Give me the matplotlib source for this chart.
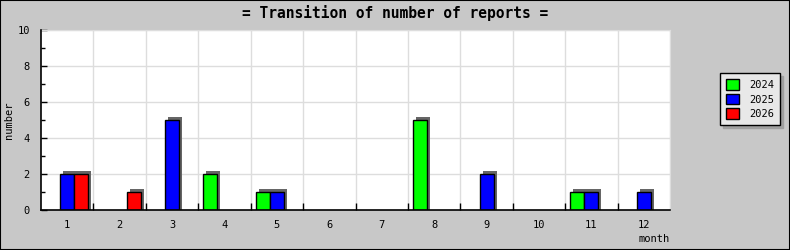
import matplotlib
matplotlib.use("Agg")
import matplotlib.pyplot as plt
from matplotlib.patches import Patch, Rectangle

months = list(range(1, 13))
month_labels = [str(m) for m in months]
series_names = ["2024", "2025", "2026"]
v2024 = [0, 0, 0, 2, 1, 0, 0, 5, 0, 0, 1, 0]
v2025 = [2, 0, 5, 0, 1, 0, 0, 0, 2, 0, 1, 1]
v2026 = [2, 1, 0, 0, 0, 0, 0, 0, 0, 0, 0, 0]
colors = ["#00ff00", "#0000ff", "#ff0000"]
title = "= Transition of number of reports ="

plt.rcParams['font.family'] = ['DejaVu Sans Mono']
W, H = 790, 250
fig = plt.figure(figsize=(W / 100, H / 100), dpi=100, facecolor="#c8c8c8")
fig.patches.append(Rectangle((0, 0), 1, 1, transform=fig.transFigure, fill=False,
                             edgecolor="black", linewidth=1.5, zorder=10))

px_l, px_r, px_t, px_b = 41, 670, 30, 210
ax = fig.add_axes([px_l / W, 1 - px_b / H, (px_r - px_l) / W, (px_b - px_t) / H])
ax.set_facecolor("white")
ax.set_xlim(0.5, 12.5)
ax.set_ylim(0, 10)

ppx = (px_r - px_l) / 12.0   # pixels per month
ppy = (px_b - px_t) / 10.0   # pixels per unit
bw = 14 / ppx
sdx = 3 / ppx
sdy = 3 / ppy

for i, (vals, col) in enumerate(zip([v2024, v2025, v2026], colors)):
    off = (i - 1) * bw
    xs = [m + off for m in months]
    for x, v in zip(xs, vals):
        if v <= 0:
            continue
        ax.bar(x + sdx, v + sdy, width=bw, bottom=0, color="#666666", linewidth=0, zorder=2)
    for x, v in zip(xs, vals):
        if v <= 0:
            continue
        ax.bar(x, v, width=bw, color=col, edgecolor="black", linewidth=1.0, zorder=3)

# grid
for b in [m + 0.5 for m in months]:
    ax.axvline(b, color="#dddddd", linewidth=1, zorder=1)
for yv in range(2, 11, 2):
    ax.axhline(yv, color="#dddddd", linewidth=1, zorder=1)

for s in ["top", "right"]:
    ax.spines[s].set_color("#dddddd")
for s in ["left", "bottom"]:
    ax.spines[s].set_color("black")
    ax.spines[s].set_linewidth(1.2)
    ax.spines[s].set_zorder(5)

ax.set_yticks(range(0, 11, 2))
ax.set_yticks(range(1, 11, 2), minor=True)
ax.tick_params(axis="y", direction="in", length=4, width=1, labelsize=7.5, pad=8)
ax.tick_params(axis="y", which="minor", direction="in", length=3, width=1)

ax.set_xticks([m + 0.5 for m in months[:-1]])
ax.set_xticklabels([])
ax.tick_params(axis="x", direction="in", length=5, width=1)
for m, lab in zip(months, month_labels):
    ax.text(m, -0.55, lab, ha="center", va="top", fontsize=7.5,
            transform=ax.transData)

ax.text(12.5, -1.35, "month", ha="right", va="top", fontsize=7.5)
fig.text(9 / W, 1 - 120 / H, "number", rotation=90, ha="center", va="center", fontsize=7.5)
fig.text(395 / W, 1 - 13 / H, title, ha="center", va="center", fontsize=10.5, fontweight="bold")

handles = [Patch(facecolor=c, edgecolor="black", linewidth=1) for c in colors]
leg = fig.legend(handles, series_names, loc="upper left",
                 bbox_to_anchor=(720 / W, 1 - 73 / H), fontsize=7.5,
                 frameon=True, fancybox=False, edgecolor="black", facecolor="#e8e8e8",
                 framealpha=1, handlelength=1.2, handleheight=1.2, handletextpad=1.0,
                 labelspacing=0.35, borderpad=0.6, borderaxespad=0,
                 shadow={'color': '#a0a0a0', 'alpha': 1})
leg.get_frame().set_linewidth(1)

fig.savefig("out.png", dpi=100, facecolor=fig.get_facecolor())
